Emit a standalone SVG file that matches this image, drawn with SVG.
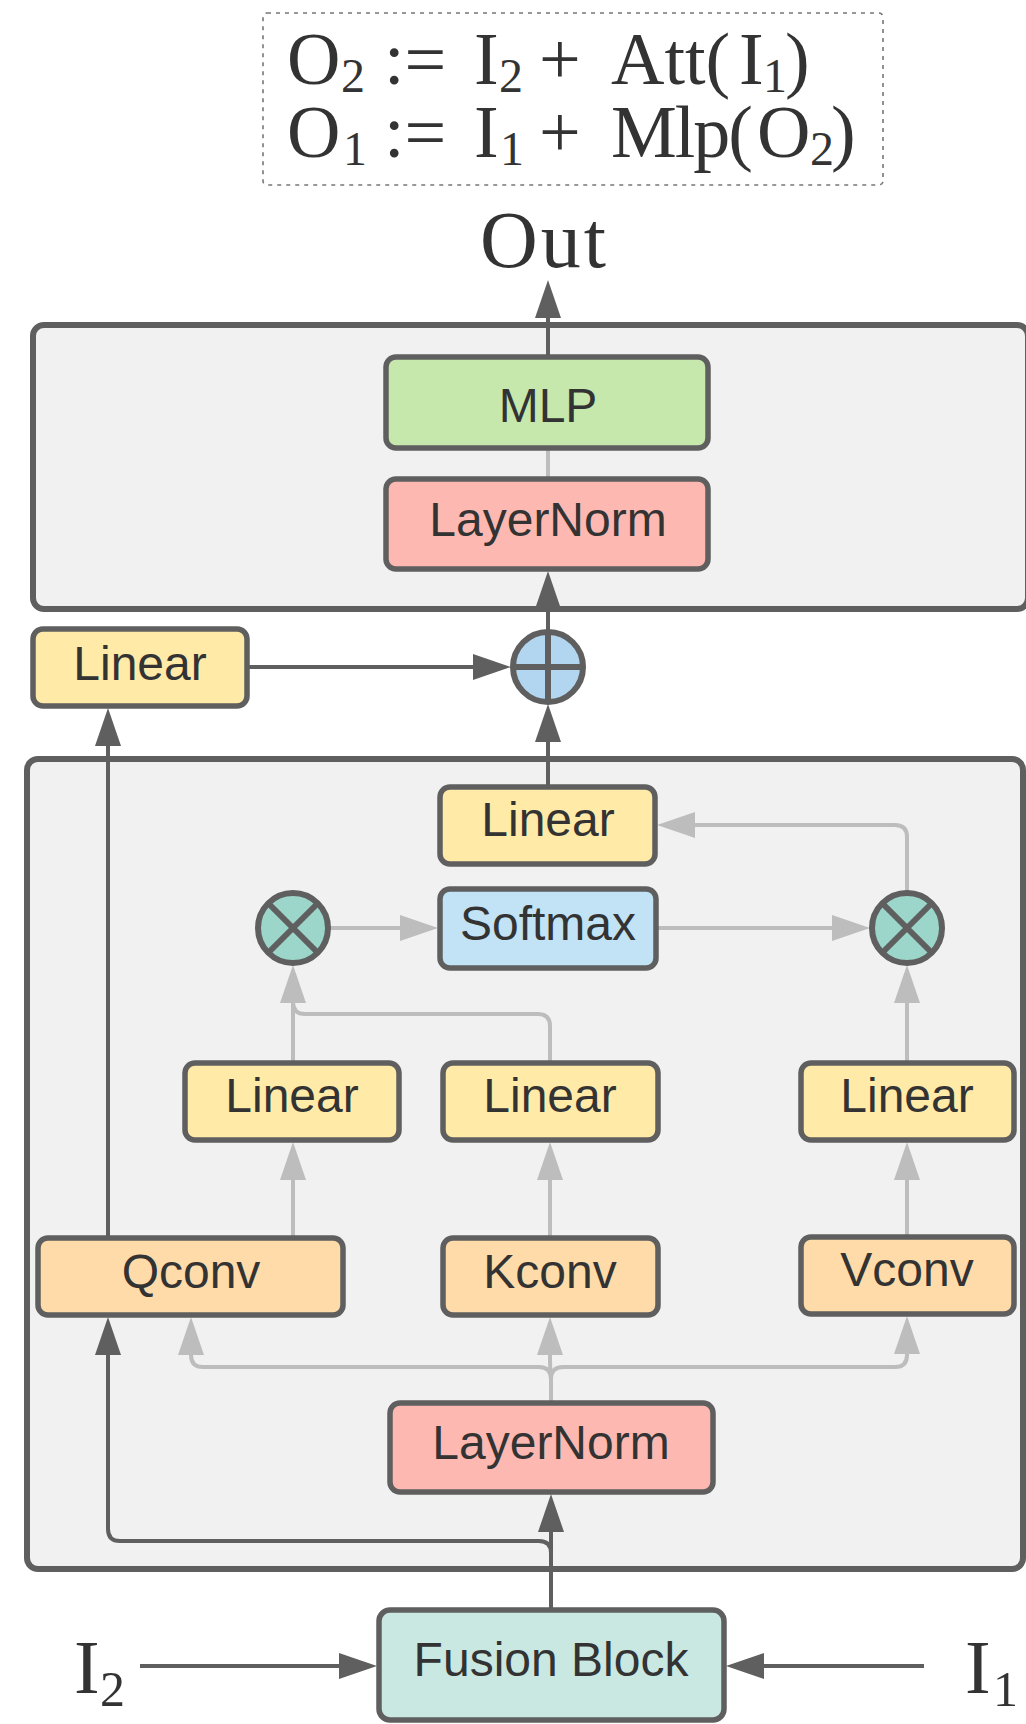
<svg xmlns="http://www.w3.org/2000/svg" width="1026" height="1724" viewBox="0 0 1026 1724">
  <style>
    .container { fill: #f1f1f1; stroke: #5f5f5f; stroke-width: 6; }
    .box { stroke: #5f5f5f; stroke-width: 5.5; }
    .op { stroke: #5f5f5f; stroke-width: 6; }
    .opline { stroke: #5f5f5f; stroke-width: 6; fill: none; }
    .label { font-family: "Liberation Sans", Arial, sans-serif; font-size: 48px; fill: #333333; text-anchor: middle; }
    .math { font-family: "Liberation Serif", "Times New Roman", serif; fill: #333333; }
    .dark { fill: none; stroke: #5f5f5f; stroke-width: 4; }
    .light { fill: none; stroke: #bdbdbd; stroke-width: 4; }
    .linear { fill: #ffeaa8; }
    .norm { fill: #fdb9b1; }
    .conv { fill: #fedba8; }
  </style>
  <defs>
    <marker id="headDark" markerUnits="userSpaceOnUse" markerWidth="38" markerHeight="26" viewBox="0 0 38 26" refX="2" refY="13" orient="auto">
      <path d="M0,0 L38,13 L0,26 z" fill="#5f5f5f"/>
    </marker>
    <marker id="headLight" markerUnits="userSpaceOnUse" markerWidth="38" markerHeight="26" viewBox="0 0 38 26" refX="2" refY="13" orient="auto">
      <path d="M0,0 L38,13 L0,26 z" fill="#bdbdbd"/>
    </marker>
  </defs>

  <!-- update rules -->
  <g id="formula">
    <rect x="263" y="13" width="620" height="172" rx="4" fill="none" stroke="#777777" stroke-width="1.6" stroke-dasharray="4 5"/>
    <text class="math" font-size="74">
      <tspan x="287" y="84">O</tspan><tspan x="341" y="92" font-size="48">2</tspan><tspan x="384" y="84">:=</tspan><tspan x="474" y="84">I</tspan><tspan x="499" y="92" font-size="48">2</tspan><tspan x="539" y="84">+</tspan><tspan x="611" y="84">Att(</tspan><tspan x="739" y="84">I</tspan><tspan x="763" y="92" font-size="48">1</tspan><tspan x="785" y="84">)</tspan>
    </text>
    <text class="math" font-size="74">
      <tspan x="287" y="157">O</tspan><tspan x="343" y="165" font-size="48">1</tspan><tspan x="384" y="157">:=</tspan><tspan x="474" y="157">I</tspan><tspan x="500" y="165" font-size="48">1</tspan><tspan x="539" y="157">+</tspan><tspan x="611" y="157" textLength="142">Mlp(</tspan><tspan x="757" y="157">O</tspan><tspan x="810" y="165" font-size="48">2</tspan><tspan x="831" y="157">)</tspan>
    </text>
  </g>

  <g id="out-label">
    <text class="math" x="543" y="267" font-size="80" text-anchor="middle" textLength="126">Out</text>
  </g>

  <!-- containers -->
  <g id="mlp-block">
    <rect class="container" x="33" y="325" width="995" height="284" rx="11"/>
  </g>
  <g id="attention-block">
    <rect class="container" x="27" y="759" width="996" height="810" rx="11"/>
  </g>

  <!-- connectors -->
  <g id="connectors">
    <!-- dark paths -->
    <path class="dark" d="M548,357 V316" marker-end="url(#headDark)"/>
    <path class="dark" d="M548,632 V607" marker-end="url(#headDark)"/>
    <path class="dark" d="M247,667 H475" marker-end="url(#headDark)"/>
    <path class="dark" d="M548,787 V740" marker-end="url(#headDark)"/>
    <path class="dark" d="M108,1238 V744" marker-end="url(#headDark)"/>
    <path class="dark" d="M551,1610 V1530" marker-end="url(#headDark)"/>
    <path class="dark" d="M551,1610 V1553 Q551,1541 539,1541 H120 Q108,1541 108,1529 V1353" marker-end="url(#headDark)"/>
    <path class="dark" d="M140,1666 H341" marker-end="url(#headDark)"/>
    <path class="dark" d="M924,1666 H762" marker-end="url(#headDark)"/>

    <!-- light paths -->
    <path class="light" d="M548,448 V479"/>
    <path class="light" d="M328,928 H402" marker-end="url(#headLight)"/>
    <path class="light" d="M656,928 H834" marker-end="url(#headLight)"/>
    <path class="light" d="M907,893 V837 Q907,825 895,825 H693" marker-end="url(#headLight)"/>
    <path class="light" d="M293,1063 V1014" stroke="#ccd3dc"/>
    <path class="light" d="M293,1016 V1001" marker-end="url(#headLight)"/>
    <path class="light" d="M550,1063 V1026 Q550,1014 538,1014 H305 Q293,1014 293,1002"/>
    <path class="light" d="M907,1063 V1001" marker-end="url(#headLight)"/>
    <path class="light" d="M293,1238 V1178" marker-end="url(#headLight)"/>
    <path class="light" d="M550,1238 V1178" marker-end="url(#headLight)"/>
    <path class="light" d="M907,1237 V1178" marker-end="url(#headLight)"/>
    <path class="light" d="M551,1403 V1379 Q551,1367 539,1367 H203 Q191,1367 191,1355 V1353" marker-end="url(#headLight)"/>
    <path class="light" d="M551,1403 V1379 Q550,1370 550,1360 V1353" marker-end="url(#headLight)"/>
    <path class="light" d="M551,1403 V1379 Q551,1367 563,1367 H895 Q907,1367 907,1355 V1352" marker-end="url(#headLight)"/>
  </g>

  <!-- nodes -->
  <g id="mlp">
    <rect class="box" x="386" y="357" width="322" height="91" rx="10" fill="#c6e8ad"/>
    <text class="label" x="548" y="422">MLP</text>
  </g>
  <g id="layernorm-top">
    <rect class="box norm" x="386" y="479" width="322" height="90" rx="10"/>
    <text class="label" x="548" y="536">LayerNorm</text>
  </g>
  <g id="add">
    <circle class="op" cx="548" cy="667" r="35" fill="#b3d6f0"/>
    <path class="opline" d="M548,632 V702 M513,667 H583"/>
  </g>
  <g id="linear-skip">
    <rect class="box linear" x="33" y="629" width="214" height="77" rx="10"/>
    <text class="label" x="140" y="680">Linear</text>
  </g>
  <g id="linear-out">
    <rect class="box linear" x="440" y="787" width="215" height="77" rx="10"/>
    <text class="label" x="548" y="836">Linear</text>
  </g>
  <g id="softmax">
    <rect class="box" x="440" y="889" width="216" height="79" rx="10" fill="#c1e3f5"/>
    <text class="label" x="548" y="940">Softmax</text>
  </g>
  <g id="mul-qk">
    <circle class="op" cx="293" cy="928" r="35" fill="#9cd5c9"/>
    <path class="opline" d="M268,903 L318,953 M318,903 L268,953"/>
  </g>
  <g id="mul-v">
    <circle class="op" cx="907" cy="928" r="35" fill="#9cd5c9"/>
    <path class="opline" d="M882,903 L932,953 M932,903 L882,953"/>
  </g>
  <g id="linear-q">
    <rect class="box linear" x="185" y="1063" width="214" height="77" rx="10"/>
    <text class="label" x="292" y="1112">Linear</text>
  </g>
  <g id="linear-k">
    <rect class="box linear" x="443" y="1063" width="215" height="77" rx="10"/>
    <text class="label" x="550" y="1112">Linear</text>
  </g>
  <g id="linear-v">
    <rect class="box linear" x="801" y="1063" width="213" height="77" rx="10"/>
    <text class="label" x="907" y="1112">Linear</text>
  </g>
  <g id="qconv">
    <rect class="box conv" x="38" y="1238" width="305" height="77" rx="10"/>
    <text class="label" x="191" y="1288">Qconv</text>
  </g>
  <g id="kconv">
    <rect class="box conv" x="443" y="1238" width="215" height="77" rx="10"/>
    <text class="label" x="550" y="1288">Kconv</text>
  </g>
  <g id="vconv">
    <rect class="box conv" x="801" y="1237" width="213" height="77" rx="10"/>
    <text class="label" x="907" y="1286">Vconv</text>
  </g>
  <g id="layernorm-bottom">
    <rect class="box norm" x="390" y="1403" width="323" height="89" rx="10"/>
    <text class="label" x="551" y="1459">LayerNorm</text>
  </g>
  <g id="fusion-block">
    <rect class="box" x="379" y="1610" width="345" height="110" rx="11" fill="#c9e8e1"/>
    <text class="label" x="551" y="1676">Fusion Block</text>
  </g>

  <!-- inputs -->
  <g id="input-i2">
    <text class="math" font-size="77"><tspan x="74" y="1693">I</tspan><tspan x="100" y="1706" font-size="50">2</tspan></text>
  </g>
  <g id="input-i1">
    <text class="math" font-size="77"><tspan x="965" y="1693">I</tspan><tspan x="993" y="1706" font-size="50">1</tspan></text>
  </g>
</svg>
